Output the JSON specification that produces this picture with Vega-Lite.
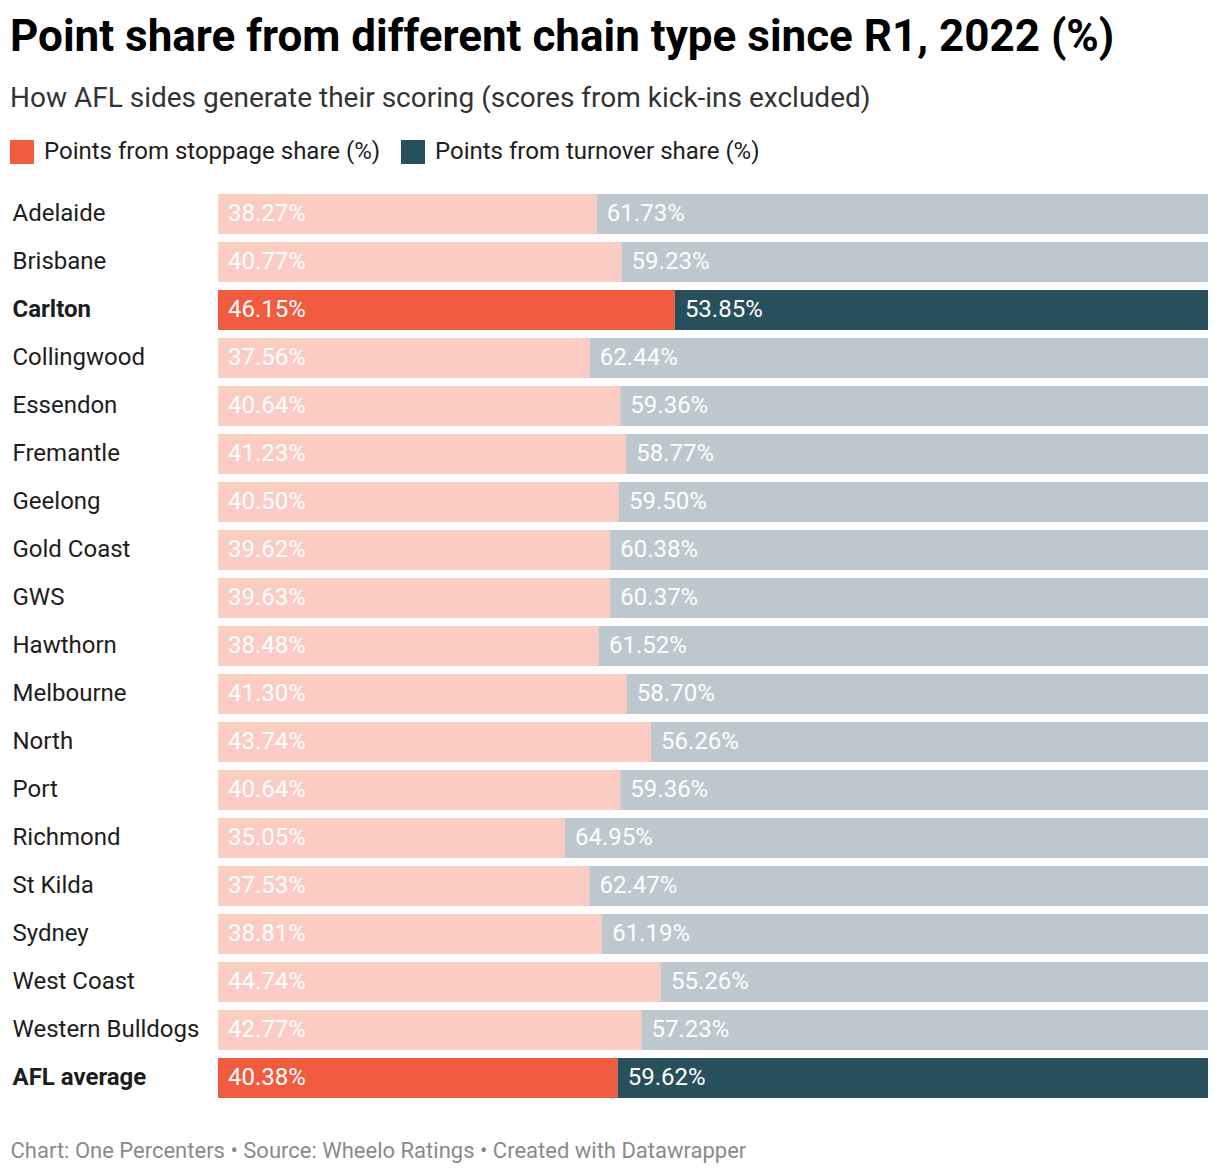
{
  "$schema": "https://vega.github.io/schema/vega-lite/v6.json",
  "width": 990,
  "height": 904,
  "autosize": {"type": "none"},
  "padding": {"left": 218, "top": 194, "right": 12, "bottom": 76},
  "background": "white",
  "title": {
    "text": "Point share from different chain type since R1, 2022 (%)",
    "subtitle": "How AFL sides generate their scoring (scores from kick-ins excluded)",
    "anchor": "start",
    "frame": "group",
    "dx": -208,
    "offset": 27,
    "font": "Roboto",
    "fontSize": 44,
    "fontWeight": "bold",
    "color": "#000000",
    "subtitleFont": "Roboto",
    "subtitleFontSize": 28,
    "subtitleColor": "#333333",
    "subtitlePadding": 25
  },
  "config": {"view": {"stroke": null}},
  "data": {
    "values": [
      {"team": "Adelaide", "type": "Points from stoppage share (%)", "value": 38.27, "label": "38.27%", "highlight": "no"},
      {"team": "Adelaide", "type": "Points from turnover share (%)", "value": 61.73, "label": "61.73%", "highlight": "no"},
      {"team": "Brisbane", "type": "Points from stoppage share (%)", "value": 40.77, "label": "40.77%", "highlight": "no"},
      {"team": "Brisbane", "type": "Points from turnover share (%)", "value": 59.23, "label": "59.23%", "highlight": "no"},
      {"team": "Carlton", "type": "Points from stoppage share (%)", "value": 46.15, "label": "46.15%", "highlight": "yes"},
      {"team": "Carlton", "type": "Points from turnover share (%)", "value": 53.85, "label": "53.85%", "highlight": "yes"},
      {"team": "Collingwood", "type": "Points from stoppage share (%)", "value": 37.56, "label": "37.56%", "highlight": "no"},
      {"team": "Collingwood", "type": "Points from turnover share (%)", "value": 62.44, "label": "62.44%", "highlight": "no"},
      {"team": "Essendon", "type": "Points from stoppage share (%)", "value": 40.64, "label": "40.64%", "highlight": "no"},
      {"team": "Essendon", "type": "Points from turnover share (%)", "value": 59.36, "label": "59.36%", "highlight": "no"},
      {"team": "Fremantle", "type": "Points from stoppage share (%)", "value": 41.23, "label": "41.23%", "highlight": "no"},
      {"team": "Fremantle", "type": "Points from turnover share (%)", "value": 58.77, "label": "58.77%", "highlight": "no"},
      {"team": "Geelong", "type": "Points from stoppage share (%)", "value": 40.50, "label": "40.50%", "highlight": "no"},
      {"team": "Geelong", "type": "Points from turnover share (%)", "value": 59.50, "label": "59.50%", "highlight": "no"},
      {"team": "Gold Coast", "type": "Points from stoppage share (%)", "value": 39.62, "label": "39.62%", "highlight": "no"},
      {"team": "Gold Coast", "type": "Points from turnover share (%)", "value": 60.38, "label": "60.38%", "highlight": "no"},
      {"team": "GWS", "type": "Points from stoppage share (%)", "value": 39.63, "label": "39.63%", "highlight": "no"},
      {"team": "GWS", "type": "Points from turnover share (%)", "value": 60.37, "label": "60.37%", "highlight": "no"},
      {"team": "Hawthorn", "type": "Points from stoppage share (%)", "value": 38.48, "label": "38.48%", "highlight": "no"},
      {"team": "Hawthorn", "type": "Points from turnover share (%)", "value": 61.52, "label": "61.52%", "highlight": "no"},
      {"team": "Melbourne", "type": "Points from stoppage share (%)", "value": 41.30, "label": "41.30%", "highlight": "no"},
      {"team": "Melbourne", "type": "Points from turnover share (%)", "value": 58.70, "label": "58.70%", "highlight": "no"},
      {"team": "North", "type": "Points from stoppage share (%)", "value": 43.74, "label": "43.74%", "highlight": "no"},
      {"team": "North", "type": "Points from turnover share (%)", "value": 56.26, "label": "56.26%", "highlight": "no"},
      {"team": "Port", "type": "Points from stoppage share (%)", "value": 40.64, "label": "40.64%", "highlight": "no"},
      {"team": "Port", "type": "Points from turnover share (%)", "value": 59.36, "label": "59.36%", "highlight": "no"},
      {"team": "Richmond", "type": "Points from stoppage share (%)", "value": 35.05, "label": "35.05%", "highlight": "no"},
      {"team": "Richmond", "type": "Points from turnover share (%)", "value": 64.95, "label": "64.95%", "highlight": "no"},
      {"team": "St Kilda", "type": "Points from stoppage share (%)", "value": 37.53, "label": "37.53%", "highlight": "no"},
      {"team": "St Kilda", "type": "Points from turnover share (%)", "value": 62.47, "label": "62.47%", "highlight": "no"},
      {"team": "Sydney", "type": "Points from stoppage share (%)", "value": 38.81, "label": "38.81%", "highlight": "no"},
      {"team": "Sydney", "type": "Points from turnover share (%)", "value": 61.19, "label": "61.19%", "highlight": "no"},
      {"team": "West Coast", "type": "Points from stoppage share (%)", "value": 44.74, "label": "44.74%", "highlight": "no"},
      {"team": "West Coast", "type": "Points from turnover share (%)", "value": 55.26, "label": "55.26%", "highlight": "no"},
      {"team": "Western Bulldogs", "type": "Points from stoppage share (%)", "value": 42.77, "label": "42.77%", "highlight": "no"},
      {"team": "Western Bulldogs", "type": "Points from turnover share (%)", "value": 57.23, "label": "57.23%", "highlight": "no"},
      {"team": "AFL average", "type": "Points from stoppage share (%)", "value": 40.38, "label": "40.38%", "highlight": "yes"},
      {"team": "AFL average", "type": "Points from turnover share (%)", "value": 59.62, "label": "59.62%", "highlight": "yes"}
    ]
  },
  "transform": [
    {"stack": "value", "groupby": ["team"], "sort": [{"field": "type", "order": "ascending"}], "as": ["x0", "x1"]}
  ],
  "encoding": {
    "y": {
      "field": "team",
      "type": "nominal",
      "sort": null,
      "scale": {"paddingInner": 0.1667, "paddingOuter": 0},
      "axis": {
        "title": null,
        "ticks": false,
        "domain": false,
        "labelAlign": "left",
        "labelBaseline": "middle",
        "labelPadding": 206,
        "labelFont": "Roboto",
        "labelFontSize": 24,
        "labelColor": "#1d1d1d",
        "labelLimit": 300,
        "labelFontWeight": {"condition": {"test": "datum.value === 'Carlton' || datum.value === 'AFL average'", "value": "bold"}, "value": "normal"}
      }
    }
  },
  "layer": [
    {
      "mark": {"type": "bar"},
      "encoding": {
        "x": {
          "field": "x0",
          "type": "quantitative",
          "scale": {"domain": [0, 100], "nice": false},
          "axis": {
            "labels": false,
            "ticks": false,
            "domain": false,
            "grid": false,
            "title": "Chart: One Percenters • Source: Wheelo Ratings • Created with Datawrapper",
            "titleFont": "Roboto",
            "titleFontSize": 22,
            "titleFontWeight": "normal",
            "titleColor": "#8a8a8a",
            "titleX": -208,
            "titleY": 42,
            "titleAlign": "left",
            "titleBaseline": "top"
          }
        },
        "x2": {"field": "x1"},
        "color": {
          "field": "type",
          "type": "nominal",
          "scale": {"domain": ["Points from stoppage share (%)", "Points from turnover share (%)"], "range": ["#f15b40", "#284f5c"]},
          "legend": {
            "orient": "none",
            "legendX": -208,
            "legendY": -54,
            "direction": "horizontal",
            "title": null,
            "symbolType": "square",
            "symbolSize": 576,
            "symbolStrokeWidth": 0,
            "symbolOpacity": 1,
            "labelFont": "Roboto",
            "labelFontSize": 24,
            "labelColor": "#1d1d1d",
            "labelOffset": 10,
            "labelLimit": 500,
            "columnPadding": 20
          }
        },
        "opacity": {
          "field": "highlight",
          "type": "nominal",
          "scale": {"domain": ["yes", "no"], "range": [1, 0.31]},
          "legend": null
        }
      }
    },
    {
      "mark": {"type": "text", "align": "left", "baseline": "middle", "dx": 10, "font": "Roboto", "fontSize": 24, "color": "#ffffff"},
      "encoding": {
        "x": {"field": "x0", "type": "quantitative"},
        "text": {"field": "label", "type": "nominal"}
      }
    }
  ]
}
